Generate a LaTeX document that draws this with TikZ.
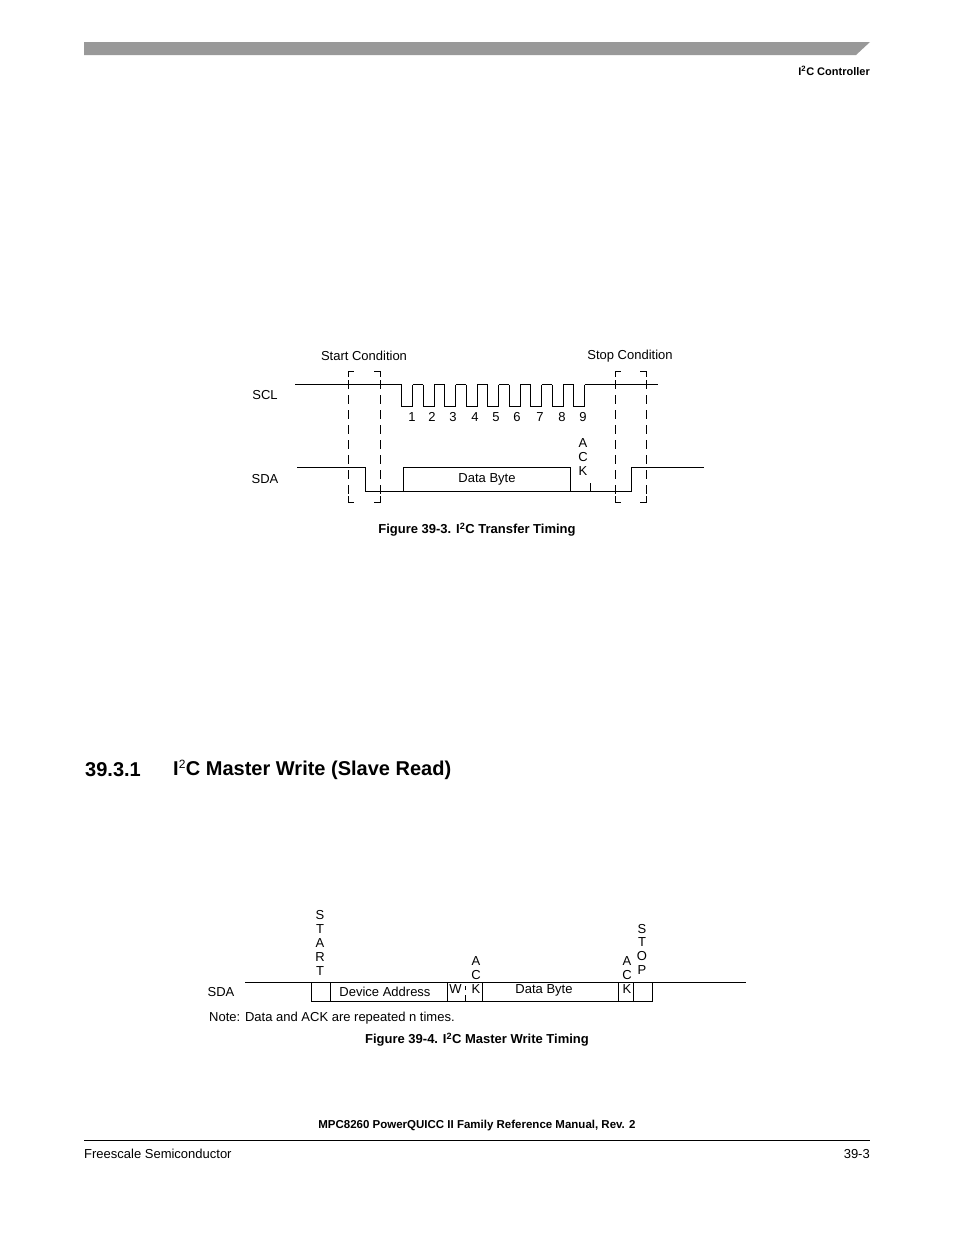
\documentclass[tikz,border=0pt]{standalone}
\usepackage{fontspec}
\setmainfont{Liberation Sans}
\begin{document}
\begin{tikzpicture}[x=1pt,y=-1pt,
  sig/.style={line width=0.9pt},
  dsh/.style={line width=0.8pt,dash pattern=on 9pt off 6pt},
  txt/.style={font=\fontsize{13}{14}\selectfont,inner sep=0pt},
  capt/.style={font=\fontsize{13}{14}\selectfont\bfseries,inner sep=0pt}]
\useasboundingbox (0,0) rectangle (954,1235);
% header
\fill[gray!80] (84,42) -- (870,42) -- (856,55) -- (84,55) -- cycle;
\node[font=\fontsize{11}{12}\selectfont\bfseries,anchor=east,inner sep=0pt] (hdr) at (870,71) {I\textsuperscript{2}C Controller};
% ---- Figure 39-3
\node[txt] (scl) at (265,395) {SCL};
\node[txt] (sda) at (265,479) {SDA};
\node[txt] (startc) at (364,356) {Start Condition};
\node[txt] (stopc) at (630,356) {Stop Condition};
\draw[sig] (295,384.5) -- (401.7,384.5);
\foreach \i in {0,...,8} {
  \draw[sig] ({401.7+21.5*\i},384.5) -- ++(0,21.5) -- ++(10.8,0) -- ++(0,-21.5);
}
\foreach \i in {0,...,7} {
  \draw[sig] ({412.5+21.5*\i},384.5) -- ++(10.7,0);
}
\draw[sig] ({412.5+21.5*8},384.5) -- (657.7,384.5);
\foreach \n/\x in {1/412,2/432,3/453,4/475,5/496,6/517,7/540,8/562,9/583}
  \node[txt] (n\n) at (\x,417) {\n};
\foreach \x in {348.3,380,615,646}
  \draw[dsh] (\x,380) -- (\x,497);
\draw[sig] (348.3,377) -- (348.3,371) -- (354,371);
\draw[sig] (374.3,371) -- (380,371) -- (380,377);
\draw[sig] (615,377) -- (615,371) -- (621,371);
\draw[sig] (640,371) -- (646,371) -- (646,377);
\draw[sig] (348.3,496) -- (348.3,502) -- (354,502);
\draw[sig] (374.3,502) -- (380,502) -- (380,496);
\draw[sig] (615,496) -- (615,502) -- (621,502);
\draw[sig] (640,502) -- (646,502) -- (646,496);
\draw[sig] (297,467.7) -- (365,467.7) -- (365,491) -- (631,491) -- (631,467.7) -- (704,467.7);
\draw[sig] (403,491) -- (403,467.7) -- (570,467.7) -- (570,491);
\node[txt] (db1) at (487,479) {Data Byte};
\draw[sig] (590.7,483) -- (590.7,491);
\node[txt] (a1) at (583,443) {A};
\node[txt] (c1) at (583,457) {C};
\node[txt] (k1) at (583,471) {K};
\node[capt] (cap1) at (477,530) {Figure 39-3. I\textsuperscript{2}C Transfer Timing};
% heading
\node[font=\fontsize{20}{22}\selectfont\bfseries,anchor=west,inner sep=0pt] (h1) at (85,770) {39.3.1};
\node[font=\fontsize{20}{22}\selectfont\bfseries,anchor=west,inner sep=0pt] (h2) at (173,770) {I\textsuperscript{\fontsize{12}{12}\selectfont\mdseries 2}C Master Write (Slave Read)};
% ---- Figure 39-4
\node[txt] (sda2) at (221,992) {SDA};
\draw[sig] (245,982.3) -- (746,982.3);
\draw[sig] (311.4,982.3) -- (311.4,1001.7) -- (652,1001.7) -- (652,982.3);
\foreach \x in {330,447.5,482,618,633} \draw[sig] (\x,982.3) -- (\x,1001.7);
\draw[sig] (465,995) -- (465,1001.7);
\draw[sig] (465,986) -- (465,990);
\node[txt] (dev) at (385,992) {Device Address};
\node[txt] (w) at (455.5,989) {W};
\node[txt] (db2) at (544,990) {Data Byte};
\foreach \l/\y in {S/915,T/929,A/943,R/957,T/971} \node[txt] at (320,\y) {\l};
\foreach \l/\y in {A/961,C/975,K/989} { \node[txt] at (476,\y) {\l}; \node[txt] at (627,\y) {\l}; }
\foreach \l/\y in {S/929,T/942,O/956,P/970} \node[txt] at (642,\y) {\l};
\node[txt,anchor=west] (note) at (209,1018) {Note: Data and ACK are repeated n times.};
\node[capt] (cap2) at (477,1040) {Figure 39-4. I\textsuperscript{2}C Master Write Timing};
% footer
\node[font=\fontsize{11.5}{12}\selectfont\bfseries,inner sep=0pt] (ft) at (477,1126) {MPC8260 PowerQUICC II Family Reference Manual, Rev. 2};
\draw[line width=0.6pt] (84,1140) -- (870,1140);
\node[txt,anchor=west] (fs) at (84,1154) {Freescale Semiconductor};
\node[txt,anchor=east] (pg) at (870,1154) {39-3};
\end{tikzpicture}
\end{document}
